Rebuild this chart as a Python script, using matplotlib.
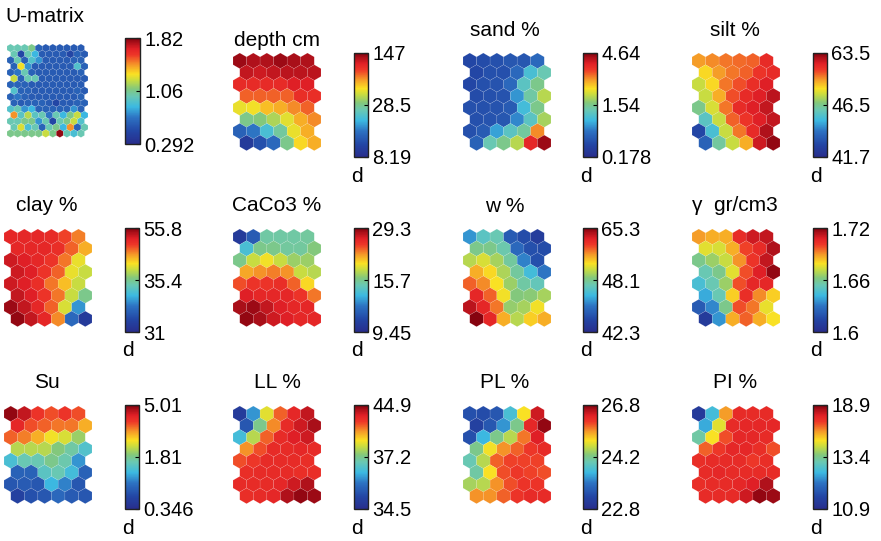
import numpy as np
import matplotlib
matplotlib.use("Agg")
import matplotlib.pyplot as plt
from matplotlib.patches import RegularPolygon
from matplotlib.colors import LinearSegmentedColormap
from matplotlib.cm import ScalarMappable

plt.rcParams['font.family'] = ['Liberation Sans', 'DejaVu Sans']

# component planes, values as position on the colour scale (0 = bottom, 1 = top)
umatrix = [
    [0.45, 0.45, 0.45, 0.50, 0.20, 0.18, 0.18, 0.18, 0.18, 0.18, 0.18],
    [0.45, 0.12, 0.45, 0.35, 0.18, 0.18, 0.18, 0.18, 0.12, 0.20, 0.18],
    [0.20, 0.45, 0.20, 0.40, 0.30, 0.18, 0.18, 0.18, 0.18, 0.20, 0.20],
    [0.20, 0.65, 0.30, 0.18, 0.18, 0.18, 0.18, 0.18, 0.18, 0.40, 0.20],
    [0.20, 0.25, 0.45, 0.20, 0.18, 0.18, 0.18, 0.18, 0.18, 0.18, 0.20],
    [0.60, 0.20, 0.45, 0.45, 0.18, 0.18, 0.18, 0.18, 0.18, 0.18, 0.18],
    [0.20, 0.20, 0.20, 0.18, 0.18, 0.18, 0.18, 0.18, 0.18, 0.18, 0.18],
    [0.40, 0.20, 0.20, 0.18, 0.18, 0.18, 0.18, 0.18, 0.18, 0.20, 0.18],
    [0.20, 0.25, 0.20, 0.18, 0.18, 0.18, 0.18, 0.18, 0.18, 0.18, 0.20],
    [0.20, 0.18, 0.20, 0.20, 0.20, 0.18, 0.12, 0.18, 0.18, 0.20, 0.20],
    [0.40, 0.45, 0.30, 0.35, 0.20, 0.20, 0.20, 0.20, 0.20, 0.30, 0.20],
    [0.75, 0.42, 0.58, 0.42, 0.45, 0.25, 0.45, 0.35, 0.50, 0.60, 0.35],
    [0.45, 0.45, 0.50, 0.50, 0.30, 0.45, 0.12, 0.45, 0.50, 0.60, 0.40],
    [0.45, 0.62, 0.38, 0.45, 0.20, 0.45, 0.50, 0.35, 0.75, 0.20, 0.45],
    [0.50, 0.50, 0.50, 0.50, 0.50, 0.60, 0.50, 0.98, 0.45, 0.38, 0.45],
]
depth = [
    [0.97, 0.95, 0.95, 0.97, 0.96, 0.95],
    [0.93, 0.92, 0.93, 0.94, 0.94, 0.94],
    [0.87, 0.87, 0.87, 0.87, 0.90, 0.90],
    [0.80, 0.80, 0.80, 0.80, 0.86, 0.86],
    [0.64, 0.65, 0.70, 0.72, 0.76, 0.80],
    [0.50, 0.52, 0.57, 0.63, 0.72, 0.76],
    [0.20, 0.25, 0.38, 0.48, 0.64, 0.72],
    [0.07, 0.15, 0.22, 0.50, 0.67, 0.72],
]
sand = [
    [0.12, 0.14, 0.15, 0.17, 0.17, 0.22],
    [0.12, 0.15, 0.15, 0.22, 0.38, 0.45],
    [0.12, 0.15, 0.16, 0.22, 0.42, 0.50],
    [0.14, 0.15, 0.16, 0.30, 0.47, 0.58],
    [0.15, 0.15, 0.16, 0.18, 0.37, 0.50],
    [0.15, 0.16, 0.17, 0.28, 0.42, 0.56],
    [0.15, 0.18, 0.32, 0.42, 0.48, 0.76],
    [0.20, 0.45, 0.50, 0.58, 0.88, 0.97],
]
silt = [
    [0.74, 0.76, 0.78, 0.79, 0.80, 0.87],
    [0.67, 0.74, 0.78, 0.80, 0.85, 0.87],
    [0.60, 0.67, 0.78, 0.82, 0.86, 0.90],
    [0.60, 0.72, 0.82, 0.87, 0.90, 0.94],
    [0.50, 0.62, 0.78, 0.87, 0.90, 0.93],
    [0.42, 0.60, 0.80, 0.85, 0.90, 0.93],
    [0.12, 0.38, 0.60, 0.78, 0.87, 0.95],
    [0.20, 0.48, 0.60, 0.72, 0.92, 0.98],
]
clay = [
    [0.88, 0.88, 0.88, 0.87, 0.83, 0.77],
    [0.88, 0.88, 0.88, 0.86, 0.80, 0.72],
    [0.92, 0.90, 0.88, 0.85, 0.78, 0.64],
    [0.92, 0.90, 0.85, 0.80, 0.64, 0.60],
    [0.92, 0.90, 0.86, 0.78, 0.70, 0.60],
    [0.93, 0.90, 0.85, 0.78, 0.60, 0.50],
    [0.97, 0.93, 0.88, 0.80, 0.62, 0.30],
    [0.98, 0.93, 0.88, 0.76, 0.22, 0.07],
]
caco3 = [
    [0.07, 0.18, 0.47, 0.47, 0.47, 0.48],
    [0.38, 0.50, 0.50, 0.48, 0.48, 0.52],
    [0.50, 0.60, 0.65, 0.60, 0.55, 0.55],
    [0.73, 0.75, 0.77, 0.75, 0.60, 0.58],
    [0.82, 0.85, 0.85, 0.86, 0.80, 0.67],
    [0.90, 0.88, 0.88, 0.88, 0.85, 0.78],
    [0.96, 0.97, 0.93, 0.90, 0.88, 0.88],
    [0.98, 0.96, 0.92, 0.90, 0.88, 0.88],
]
water = [
    [0.30, 0.42, 0.45, 0.18, 0.14, 0.08],
    [0.50, 0.50, 0.46, 0.22, 0.15, 0.14],
    [0.58, 0.62, 0.56, 0.48, 0.27, 0.15],
    [0.72, 0.67, 0.57, 0.48, 0.37, 0.25],
    [0.80, 0.76, 0.66, 0.55, 0.47, 0.44],
    [0.88, 0.80, 0.65, 0.52, 0.53, 0.56],
    [0.94, 0.88, 0.78, 0.54, 0.56, 0.65],
    [0.99, 0.88, 0.72, 0.58, 0.68, 0.72],
]
gamma = [
    [0.74, 0.72, 0.72, 0.87, 0.92, 0.93],
    [0.63, 0.62, 0.72, 0.83, 0.87, 0.95],
    [0.50, 0.55, 0.60, 0.75, 0.85, 0.93],
    [0.45, 0.50, 0.63, 0.82, 0.90, 0.98],
    [0.38, 0.45, 0.55, 0.82, 0.88, 0.88],
    [0.33, 0.45, 0.68, 0.86, 0.76, 0.68],
    [0.18, 0.28, 0.50, 0.82, 0.78, 0.64],
    [0.07, 0.30, 0.72, 0.80, 0.72, 0.66],
]
su = [
    [0.98, 0.93, 0.85, 0.82, 0.85, 0.82],
    [0.88, 0.82, 0.80, 0.78, 0.78, 0.72],
    [0.80, 0.77, 0.72, 0.65, 0.62, 0.55],
    [0.58, 0.58, 0.58, 0.52, 0.47, 0.40],
    [0.38, 0.45, 0.45, 0.50, 0.46, 0.30],
    [0.20, 0.20, 0.42, 0.45, 0.37, 0.20],
    [0.17, 0.18, 0.17, 0.35, 0.27, 0.17],
    [0.10, 0.15, 0.17, 0.22, 0.18, 0.17],
]
ll = [
    [0.07, 0.30, 0.63, 0.80, 0.88, 0.93],
    [0.17, 0.50, 0.76, 0.87, 0.92, 0.96],
    [0.37, 0.58, 0.80, 0.87, 0.90, 0.92],
    [0.75, 0.82, 0.87, 0.87, 0.88, 0.87],
    [0.82, 0.84, 0.87, 0.87, 0.87, 0.86],
    [0.86, 0.87, 0.87, 0.87, 0.86, 0.86],
    [0.87, 0.87, 0.87, 0.88, 0.92, 0.95],
    [0.86, 0.87, 0.88, 0.95, 0.98, 0.97],
]
pl = [
    [0.15, 0.14, 0.17, 0.38, 0.66, 0.92],
    [0.10, 0.17, 0.30, 0.50, 0.88, 0.98],
    [0.15, 0.35, 0.50, 0.58, 0.78, 0.90],
    [0.50, 0.65, 0.75, 0.80, 0.84, 0.87],
    [0.45, 0.58, 0.80, 0.83, 0.83, 0.83],
    [0.47, 0.66, 0.82, 0.84, 0.83, 0.82],
    [0.56, 0.58, 0.75, 0.82, 0.85, 0.85],
    [0.75, 0.75, 0.80, 0.85, 0.87, 0.87],
]
pi = [
    [0.07, 0.37, 0.74, 0.87, 0.87, 0.87],
    [0.33, 0.63, 0.87, 0.88, 0.88, 0.88],
    [0.47, 0.66, 0.82, 0.88, 0.88, 0.87],
    [0.80, 0.84, 0.88, 0.88, 0.86, 0.82],
    [0.86, 0.87, 0.87, 0.87, 0.84, 0.86],
    [0.87, 0.88, 0.87, 0.87, 0.87, 0.87],
    [0.86, 0.87, 0.87, 0.88, 0.90, 0.95],
    [0.87, 0.87, 0.87, 0.92, 0.98, 0.97],
]

titles = ["U-matrix", "depth cm", "sand %", "silt %",
          "clay %", "CaCo3 %", "w %", "\u03b3  gr/cm3",
          "Su", "LL %", "PL %", "PI %"]
planes = [umatrix, depth, sand, silt, clay, caco3, water, gamma, su, ll, pl, pi]
bar_labels = [
    ["0.292", "1.06", "1.82"], ["8.19", "28.5", "147"], ["0.178", "1.54", "4.64"],
    ["41.7", "46.5", "63.5"], ["31", "35.4", "55.8"], ["9.45", "15.7", "29.3"],
    ["42.3", "48.1", "65.3"], ["1.6", "1.66", "1.72"], ["0.346", "1.81", "5.01"],
    ["34.5", "37.2", "44.9"], ["22.8", "24.2", "26.8"], ["10.9", "13.4", "18.9"],
]

# print-style jet
jet_colors = [
    (0.00, (40, 45, 140)), (0.12, (35, 70, 165)), (0.25, (45, 115, 195)),
    (0.35, (60, 185, 225)), (0.45, (105, 200, 180)), (0.52, (130, 200, 125)),
    (0.60, (200, 220, 65)), (0.66, (250, 225, 35)), (0.75, (245, 150, 40)),
    (0.84, (238, 55, 40)), (0.90, (225, 32, 38)), (0.96, (170, 15, 25)),
    (1.00, (125, 0, 12)),
]
cmap = LinearSegmentedColormap.from_list(
    "pjet", [(p, tuple(v / 255 for v in c)) for p, c in jet_colors])

W, H = 881, 541
fig = plt.figure(figsize=(W / 100, H / 100), dpi=100)


def px_axes(left, top, width, height):
    return fig.add_axes([left / W, 1 - (top + height) / H, width / W, height / H])


def draw_plane(ax, vals):
    vals = np.asarray(vals)
    nr, nc = vals.shape
    dy = np.sqrt(3) / 2
    for r in range(nr):
        for c in range(nc):
            x = c + 0.5 * (r % 2)
            ax.add_patch(RegularPolygon((x, -r * dy), 6, radius=1 / np.sqrt(3),
                                        facecolor=cmap(vals[r, c]),
                                        edgecolor=(1, 1, 1, 0.22), linewidth=0.3))
    ax.set_xlim(-0.5, nc)
    ax.set_ylim(-(nr - 1) * dy - 1 / np.sqrt(3), 1 / np.sqrt(3))
    ax.set_aspect('equal')
    ax.axis('off')


col_bar = [125, 354, 583, 813]
row_hex = [53, 229, 406]
row_bar = [53, 228, 405]
title_y = [[16, 41, 30, 30], [206, 206, 207, 206], [382, 382, 382, 382]]
title_x = [47, 277, 505, 735]
hex_left = [4, 233, 463, 692]

for i, (title, vals, labs) in enumerate(zip(titles, planes, bar_labels)):
    r, c = divmod(i, 4)
    if i == 0:
        ax = px_axes(7, 44, 81, 93.5)
        cax = px_axes(col_bar[0], 38, 15, 106)
        fig.text(5 / W, 1 - title_y[0][0] / H, title, fontsize=15, ha='left', va='center')
    else:
        ax = px_axes(hex_left[c], row_hex[r], 88, 88 * 7.2169 / 6.5)
        cax = px_axes(col_bar[c], row_bar[r], 14, 104)
        fig.text(title_x[c] / W, 1 - title_y[r][c] / H, title, fontsize=15,
                 ha='center', va='center')
        fig.text((col_bar[c] + 3) / W, 1 - (row_bar[r] + 104 + 19) / H, "d",
                 fontsize=15, ha='center', va='center')
    draw_plane(ax, vals)
    sm = ScalarMappable(cmap=cmap, norm=plt.Normalize(0, 1))
    cb = fig.colorbar(sm, cax=cax, ticks=[0, 0.5, 1])
    cb.ax.set_yticklabels(labs)
    cb.ax.tick_params(labelsize=14.5, length=3, width=0.8, direction='in', pad=3)
    cb.outline.set_linewidth(1.0)
    cb.outline.set_edgecolor('#222222')

fig.savefig("out.png", dpi=100)
